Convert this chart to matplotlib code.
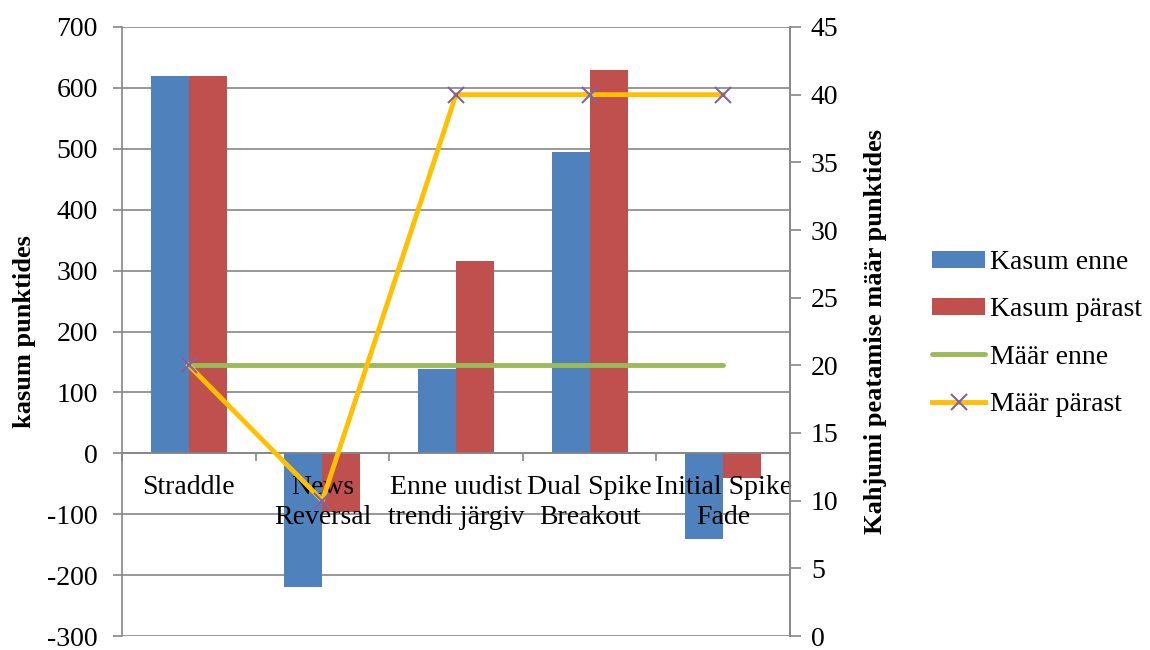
import numpy as np
import matplotlib.pyplot as plt

plt.rcParams['font.family'] = ['Liberation Serif', 'DejaVu Serif']
plt.rcParams['axes.unicode_minus'] = False

categories = ['Straddle', 'News\nReversal', 'Enne uudist\ntrendi järgiv',
              'Dual Spike\nBreakout', 'Initial Spike\nFade']
kasum_enne = [620, -220, 138, 495, -140]
kasum_parast = [620, -97, 315, 630, -41]
maar_enne = [20, 20, 20, 20, 20]
maar_parast = [20, 10, 40, 40, 40]

blue = '#4F81BD'
red = '#C0504D'
green = '#9BBB59'
yellow = '#FFC000'
purple = '#8064A2'
grey = '#868686'
fs = 20

fig = plt.figure(figsize=(11.5, 6.5), dpi=100)
ax = fig.add_axes([122/1150, 14/650, 668/1150, 609/650])

x = np.arange(len(categories))
w = 0.285
ax.bar(x - w/2, kasum_enne, w, color=blue, label='Kasum enne', zorder=2)
ax.bar(x + w/2, kasum_parast, w, color=red, label='Kasum pärast', zorder=2)

ax.set_xlim(-0.5, len(categories) - 0.5)
ax.set_ylim(-300, 700)
ax.set_yticks(np.arange(-300, 701, 100))
ax.yaxis.grid(True, color=grey, linewidth=1.2, zorder=0)
ax.set_axisbelow(True)

# category axis sits on zero
ax.spines['bottom'].set_position(('data', 0))
ax.spines['top'].set_visible(False)
for s in ['bottom', 'left', 'right']:
    ax.spines[s].set_color(grey)
    ax.spines[s].set_linewidth(1.2)
ax.set_xticks(np.arange(-0.5, len(categories)))
ax.set_xticklabels([])
ax.tick_params(axis='x', length=6, color=grey, width=1.2)
ax.tick_params(axis='y', length=6.5, color=grey, width=1.2, labelsize=fs, pad=11)
for xi, lab in zip(x, categories):
    ax.text(xi, -35, lab, ha='center', va='top', fontsize=fs,
            linespacing=1.3, zorder=5)
ax.set_ylabel('kasum punktides', fontsize=19, fontweight='bold', labelpad=8)

ax2 = ax.twinx()
ax2.plot(x, maar_enne, color=green, linewidth=3.5, solid_capstyle='round',
         label='Määr enne')
ax2.plot(x, maar_parast, color=yellow, linewidth=3.5, marker='x',
         markersize=11, markeredgecolor=purple, markeredgewidth=1.5,
         label='Määr pärast')
ax2.set_ylim(0, 45)
ax2.set_yticks(np.arange(0, 46, 5))
for s in ['top', 'bottom', 'left']:
    ax2.spines[s].set_visible(False)
ax2.spines['right'].set_color(grey)
ax2.spines['right'].set_linewidth(1.2)
ax2.tick_params(axis='y', length=8, color=grey, width=1.2, labelsize=fs, pad=7)
ax2.set_ylabel('Kahjumi peatamise määr punktides', fontsize=19,
               fontweight='bold', labelpad=18)

h1, l1 = ax.get_legend_handles_labels()
h2, l2 = ax2.get_legend_handles_labels()
fig.legend(h1 + h2, l1 + l2, loc='center left', bbox_to_anchor=(921/1150, 0.487),
           frameon=False, fontsize=fs, handlelength=1.9, handleheight=0.55,
           handletextpad=0.2, labelspacing=0.8, borderaxespad=0)

fig.savefig('out.png', dpi=100)
